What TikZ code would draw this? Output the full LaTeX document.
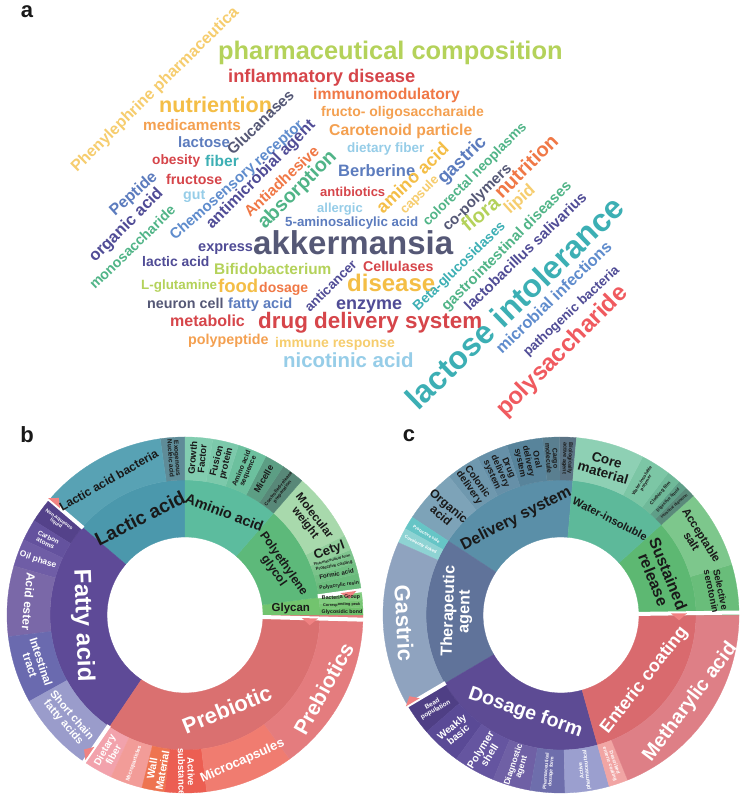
\documentclass[tikz,border=0pt]{standalone}
\usepackage{fontspec}
\setmainfont{Liberation Sans}

% word cloud colours
\definecolor{wcLime}{RGB}{180,210,90}
\definecolor{wcRed}{RGB}{214,69,74}
\definecolor{wcPink}{RGB}{240,90,95}
\definecolor{wcOrange}{RGB}{240,120,70}
\definecolor{wcLtOrange}{RGB}{244,160,80}
\definecolor{wcYellow}{RGB}{244,190,70}
\definecolor{wcPaleYellow}{RGB}{246,205,110}
\definecolor{wcBlue}{RGB}{92,124,190}
\definecolor{wcMidBlue}{RGB}{95,140,205}
\definecolor{wcLtBlue}{RGB}{150,205,232}
\definecolor{wcTeal}{RGB}{60,175,180}
\definecolor{wcSlate}{RGB}{85,88,118}
\definecolor{wcIndigo}{RGB}{80,76,150}
\definecolor{wcGreen}{RGB}{80,180,135}

% sunburst b colours
\definecolor{sbLactic}{RGB}{75,152,172}
\definecolor{sbLAB}{RGB}{88,162,180}
\definecolor{sbExo}{RGB}{95,140,152}
\definecolor{sbAmino}{RGB}{92,188,158}
\definecolor{sbGrowth}{RGB}{130,205,176}
\definecolor{sbFusion}{RGB}{124,201,171}
\definecolor{sbAminoSeq}{RGB}{108,192,158}
\definecolor{sbMicelle}{RGB}{92,158,132}
\definecolor{sbControl}{RGB}{88,136,120}
\definecolor{sbPEG}{RGB}{93,185,122}
\definecolor{sbMolw}{RGB}{168,217,172}
\definecolor{sbCetyl}{RGB}{148,208,158}
\definecolor{sbPharm}{RGB}{128,198,144}
\definecolor{sbProt}{RGB}{122,195,138}
\definecolor{sbFormic}{RGB}{112,190,130}
\definecolor{sbPolyac}{RGB}{106,187,124}
\definecolor{sbGlycan}{RGB}{114,196,110}
\definecolor{sbBact}{RGB}{130,204,128}
\definecolor{sbCorr}{RGB}{120,198,116}
\definecolor{sbGlyco}{RGB}{110,192,106}
\definecolor{sbFatty}{RGB}{94,74,151}
\definecolor{sbNonaq}{RGB}{84,66,138}
\definecolor{sbCarbon}{RGB}{100,82,158}
\definecolor{sbOil}{RGB}{111,93,166}
\definecolor{sbAcidE}{RGB}{122,104,168}
\definecolor{sbIntest}{RGB}{106,106,175}
\definecolor{sbShort}{RGB}{154,156,203}
\definecolor{sbPrebio}{RGB}{218,112,112}
\definecolor{sbDiet}{RGB}{242,162,172}
\definecolor{sbMicrop}{RGB}{242,156,152}
\definecolor{sbWall}{RGB}{238,116,80}
\definecolor{sbActive}{RGB}{236,94,82}
\definecolor{sbMicroc}{RGB}{240,124,112}
\definecolor{sbPrebs}{RGB}{228,124,126}

% sunburst c colours
\definecolor{scDeliv}{RGB}{90,143,168}
\definecolor{scOrgan}{RGB}{125,163,184}
\definecolor{scColon}{RGB}{111,152,174}
\definecolor{scDrugD}{RGB}{102,144,168}
\definecolor{scOral}{RGB}{88,132,155}
\definecolor{scCargo}{RGB}{90,127,144}
\definecolor{scBiol}{RGB}{91,115,132}
\definecolor{scThera}{RGB}{96,115,154}
\definecolor{scProtS}{RGB}{102,197,198}
\definecolor{scCoval}{RGB}{142,211,211}
\definecolor{scGastric}{RGB}{143,163,191}
\definecolor{scDosage}{RGB}{93,75,148}
\definecolor{scBead}{RGB}{79,63,133}
\definecolor{scWeak}{RGB}{90,74,150}
\definecolor{scPolym}{RGB}{101,85,160}
\definecolor{scDiagn}{RGB}{111,96,165}
\definecolor{scPharmD}{RGB}{110,110,172}
\definecolor{scActiveP}{RGB}{155,159,207}
\definecolor{scEnteric}{RGB}{217,106,110}
\definecolor{scDescr}{RGB}{241,165,164}
\definecolor{scMeth}{RGB}{222,127,134}
\definecolor{scSust}{RGB}{93,184,114}
\definecolor{scAccept}{RGB}{125,199,140}
\definecolor{scSelect}{RGB}{105,189,122}
\definecolor{scWater}{RGB}{93,185,154}
\definecolor{scCore}{RGB}{142,208,180}
\definecolor{scWpoly}{RGB}{124,198,165}
\definecolor{scCloth}{RGB}{111,185,153}
\definecolor{scDigest}{RGB}{95,159,136}
\definecolor{scIntDig}{RGB}{90,138,122}
\definecolor{notchpink}{RGB}{240,130,130}

\newcommand{\fsz}[1]{\fontsize{#1}{#1}\selectfont\bfseries}
% annular sector: inner radius, outer radius, start angle, end angle, colour
\newcommand{\ringpart}[5]{\filldraw[#5, line width=0.3pt] (#3:#1) arc[start angle=#3, end angle=#4, radius=#1] -- (#4:#2) arc[start angle=#4, end angle=#3, radius=#2] -- cycle;}
\newcommand{\slit}[3]{\draw[white, line width=4pt] (#1:#2) -- (#1:#3);}
\newcommand{\notch}[2]{\fill[notchpink, shift={(#1:#2)}, rotate=#1] (-8,0) -- (8,0) -- (0,-7) -- cycle;}

\tikzset{
  word/.style={anchor=base west, inner sep=0pt},
  seclbl/.style={inner sep=0pt, align=center, text=black!90},
  seclblw/.style={seclbl, text=white},
  panel/.style={inner sep=0pt, text=black!90, font=\fsz{22}},
}

\begin{document}
\begin{tikzpicture}[x=1pt, y=1pt]
\useasboundingbox (0,0) rectangle (745,802);
\fill[white] (0,0) rectangle (745,802);

% Panel letters
\node[panel] (la) at (27,790) {a};
\node[panel] (lb) at (27,367) {b};
\node[panel] (lc) at (409,366) {c};

% Word cloud, horizontal words
\node[word, text=wcLime, font=\fsz{25.4}] (pharmcomp) at (218,742) {pharmaceutical composition};
\node[word, text=wcRed, font=\fsz{18.3}] (inflam) at (228,719) {inflammatory disease};
\node[word, text=wcOrange, font=\fsz{15.7}] (immuno) at (313,702) {immunomodulatory};
\node[word, text=wcLtOrange, font=\fsz{14}] (fructoolig) at (321,685) {fructo- oligosaccharaide};
\node[word, text=wcLtOrange, font=\fsz{15.7}] (carotenoid) at (329,666) {Carotenoid particle};
\node[word, text=wcLtBlue, font=\fsz{13.5}] (dietfiber) at (347,649) {dietary fiber};
\node[word, text=wcBlue, font=\fsz{16.5}] (berberine) at (338,625) {Berberine};
\node[word, text=wcRed, font=\fsz{13}] (antibiotics) at (320,605) {antibiotics};
\node[word, text=wcYellow, font=\fsz{21.6}] (nutriention) at (159,689) {nutriention};
\node[word, text=wcLtOrange, font=\fsz{15.3}] (medicaments) at (143,671) {medicaments};
\node[word, text=wcBlue, font=\fsz{15}] (lactose) at (178,654) {lactose};
\node[word, text=wcRed, font=\fsz{13.7}] (obesity) at (152,637) {obesity};
\node[word, text=wcTeal, font=\fsz{15.5}] (fiber) at (205,635) {fiber};
\node[word, text=wcRed, font=\fsz{14.2}] (fructose) at (166,617) {fructose};
\node[word, text=wcLtBlue, font=\fsz{14.2}] (gut) at (183,602) {gut};
\node[word, text=wcLtBlue, font=\fsz{13}] (allergic) at (317,589) {allergic};
\node[word, text=wcBlue, font=\fsz{13.3}] (aminosal) at (285,575) {5-aminosalicylic acid};
\node[word, text=wcSlate, font=\fsz{33}] (akkermansia) at (253,547) {akkermansia};
\node[word, text=wcIndigo, font=\fsz{14.5}] (express) at (198,550) {express};
\node[word, text=wcIndigo, font=\fsz{13.9}] (lacticacid) at (142,535) {lactic acid};
\node[word, text=wcLime, font=\fsz{15.4}] (bifido) at (214,527) {Bifidobacterium};
\node[word, text=wcLime, font=\fsz{13.4}] (glutamine) at (141,512) {L-glutamine};
\node[word, text=wcYellow, font=\fsz{18.5}] (food) at (218,509) {food};
\node[word, text=wcOrange, font=\fsz{14}] (dosage) at (259,509) {dosage};
\node[word, text=wcSlate, font=\fsz{14.3}] (neuron) at (147,493) {neuron cell};
\node[word, text=wcBlue, font=\fsz{14.6}] (fattyacid) at (228,493) {fatty acid};
\node[word, text=wcRed, font=\fsz{16}] (metabolic) at (170,475) {metabolic};
\node[word, text=wcRed, font=\fsz{22.4}] (drugdeliv) at (258,473) {drug delivery system};
\node[word, text=wcLtOrange, font=\fsz{14.3}] (polypeptide) at (188,457) {polypeptide};
\node[word, text=wcPaleYellow, font=\fsz{14}] (immuneresp) at (275,454) {immune response};
\node[word, text=wcLtBlue, font=\fsz{20.4}] (nicotinic) at (283,434) {nicotinic acid};
\node[word, text=wcIndigo, font=\fsz{18}] (enzyme) at (336,492) {enzyme};
\node[word, text=wcRed, font=\fsz{14.2}] (cellulases) at (363,530) {Cellulases};
\node[word, text=wcYellow, font=\fsz{24}] (disease) at (347,510) {disease};

% Word cloud, slanted words
\node[word, rotate=44.5, text=wcPaleYellow, font=\fsz{16}] (phenyl) at (77,629) {Phenylephrine pharmaceutica};
\node[word, rotate=44, text=wcSlate, font=\fsz{15.3}] (glucanases) at (233,646) {Glucanases};
\node[word, rotate=41.5, text=wcMidBlue, font=\fsz{15}] (chemosens) at (175,561) {Chemosensory receptor};
\node[word, rotate=45, text=wcIndigo, font=\fsz{16}] (antimicrob) at (212,572) {antimicrobial agent};
\node[word, rotate=43, text=wcOrange, font=\fsz{15.4}] (antiadh) at (250,584) {Antiadhesive};
\node[word, rotate=45, text=wcGreen, font=\fsz{19.8}] (absorption) at (265,572) {absorption};
\node[word, rotate=45, text=wcIndigo, font=\fsz{13.4}] (anticancer) at (310,489) {anticancer};
\node[word, rotate=44, text=wcYellow, font=\fsz{17.8}] (aminoacid) at (383,587) {amino acid};
\node[word, rotate=45, text=wcPaleYellow, font=\fsz{13}] (capsule) at (405,587) {capsule};
\node[word, rotate=44, text=wcBlue, font=\fsz{18.3}] (gastric) at (444,617) {gastric};
\node[word, rotate=45, text=wcGreen, font=\fsz{13.7}] (colorectal) at (428,575) {colorectal neoplasms};
\node[word, rotate=44, text=wcSlate, font=\fsz{15}] (copolymers) at (448,570) {co-polymers};
\node[word, rotate=45, text=wcOrange, font=\fsz{20}] (nutrition) at (502,602) {nutrition};
\node[word, rotate=40, text=wcLime, font=\fsz{20}] (flora) at (468,569) {flora};
\node[word, rotate=42, text=wcPaleYellow, font=\fsz{17}] (lipid) at (510,587) {lipid};
\node[word, rotate=44, text=wcTeal, font=\fsz{13.8}] (betagluc) at (418,490) {Beta-glucosidases};
\node[word, rotate=45, text=wcGreen, font=\fsz{14.8}] (gastroint) at (447,490) {gastrointestinal diseases};
\node[word, rotate=44, text=wcIndigo, font=\fsz{14.9}] (lactobac) at (470,490) {lactobacillus salivarius};
\node[word, rotate=44, text=wcTeal, font=\fsz{32}] (lactint) at (418,390) {lactose intolerance};
\node[word, rotate=44, text=wcMidBlue, font=\fsz{16.3}] (microbinf) at (502,447) {microbial infections};
\node[word, rotate=43, text=wcIndigo, font=\fsz{13.3}] (pathogen) at (528,445) {pathogenic bacteria};
\node[word, rotate=45, text=wcPink, font=\fsz{24}] (polysacch) at (505,384) {polysaccharide};
\node[word, rotate=42, text=wcBlue, font=\fsz{16}] (peptide) at (115,585) {Peptide};
\node[word, rotate=45, text=wcIndigo, font=\fsz{16.5}] (organic) at (95,539) {organic acid};
\node[word, rotate=44, text=wcGreen, font=\fsz{14.2}] (monosacch) at (95,512) {monosaccharide};

% Sunburst b
\begin{scope}[shift={(185,187)}]
% inner ring
\ringpart{78}{135}{90}{139.5}{sbLactic}
\ringpart{78}{135}{139.5}{236}{sbFatty}
\ringpart{78}{135}{236}{360}{sbPrebio}
\ringpart{78}{135}{0}{7.5}{sbGlycan}
\ringpart{78}{135}{7.5}{49}{sbPEG}
\ringpart{78}{135}{49}{90}{sbAmino}
% outer ring
\ringpart{135}{178}{90}{98}{sbExo}
\ringpart{135}{178}{98}{139.5}{sbLAB}
\ringpart{135}{178}{139.5}{148}{sbNonaq}
\ringpart{135}{178}{148}{155}{sbCarbon}
\ringpart{135}{178}{155}{164}{sbOil}
\ringpart{135}{178}{164}{187}{sbAcidE}
\ringpart{135}{178}{187}{209}{sbIntest}
\ringpart{135}{178}{209}{236}{sbShort}
\ringpart{135}{178}{236}{245.5}{sbDiet}
\ringpart{135}{178}{245.5}{256}{sbMicrop}
\ringpart{135}{178}{256}{263.5}{sbWall}
\ringpart{135}{178}{263.5}{277}{sbActive}
\ringpart{135}{178}{277}{306}{sbMicroc}
\ringpart{135}{178}{306}{360}{sbPrebs}
\ringpart{135}{178}{0}{2.5}{sbGlyco}
\ringpart{135}{178}{2.5}{4.8}{sbCorr}
\ringpart{135}{178}{4.8}{8}{sbBact}
\ringpart{135}{178}{8}{13.5}{sbPolyac}
\ringpart{135}{178}{13.5}{17}{sbFormic}
\ringpart{135}{178}{17}{19.5}{sbProt}
\ringpart{135}{178}{19.5}{21.5}{sbPharm}
\ringpart{135}{178}{21.5}{26.5}{sbCetyl}
\ringpart{135}{178}{26.5}{49}{sbMolw}
\ringpart{135}{178}{49}{56.5}{sbControl}
\ringpart{135}{178}{56.5}{63}{sbMicelle}
\ringpart{135}{178}{63}{72.5}{sbAminoSeq}
\ringpart{135}{178}{72.5}{81}{sbFusion}
\ringpart{135}{178}{81}{90}{sbGrowth}
% breaks between groups
\slit{139.5}{134}{181}
\slit{-1.5}{76}{181}
\slit{8}{134}{181}
\slit{235.5}{134}{181}
\notch{139.5}{172}
\notch{-1.5}{125}
\notch{8}{165}
\notch{235.5}{168}
% inner labels
\node[seclbl, rotate=27, font=\fsz{19}] (blactic) at (115:107) {Lactic acid};
\node[seclbl, rotate=-21, font=\fsz{14.5}] (baminio) at (69:110) {Aminio acid};
\node[seclbl, rotate=-55, font=\fsz{12}] (bpeg) at (27:105) {Polyethylene\\glycol};
\node[seclbl, font=\fsz{11.5}] (bglycan) at (3.5:106) {Glycan};
\node[seclblw, rotate=-88, font=\fsz{24}] (bfatty) at (186:103) {Fatty acid};
\node[seclblw, rotate=22, font=\fsz{22}] (bprebio) at (294:103) {Prebiotic};
% outer labels
\node[seclbl, rotate=29.5, font=\fsz{12}] (blab) at (119.5:155) {Lactic acid bacteria};
\node[seclbl, rotate=-86, font=\fsz{6.5}] (bexo) at (94:157) {Exogenous\\Nucleic acid};
\node[seclbl, rotate=85, font=\fsz{9.5}] (bgrowth) at (85.5:157) {Growth\\Factor};
\node[seclbl, rotate=76, font=\fsz{9.5}] (bfusion) at (76.5:157) {Fusion\\protein};
\node[seclbl, rotate=67, font=\fsz{7}] (baaseq) at (67.5:157) {Amino acid\\sequence};
\node[seclbl, rotate=60, font=\fsz{9}] (bmicelle) at (60:157) {Micelle};
\node[seclbl, rotate=52, font=\fsz{4.8}] (bctrl) at (52.5:157) {Controlled-release\\preparation};
\node[seclbl, rotate=-52.5, font=\fsz{11.5}] (bmolw) at (37.5:157) {Molecular\\weight};
\node[seclbl, rotate=20, font=\fsz{13}] (bcetyl) at (24:158) {Cetyl};
\node[seclbl, rotate=14, font=\fsz{3.8}] (bpharm) at (20.5:157) {Pharmaceutical form};
\node[seclbl, rotate=12, font=\fsz{4.3}] (bprot) at (18.2:157) {Protective coating};
\node[seclbl, rotate=10, font=\fsz{6.2}] (bformic) at (15.2:157) {Formic acid};
\node[seclbl, rotate=8, font=\fsz{5}] (bpolyac) at (10.8:157) {Polyacrylic resin};
\node[seclbl, rotate=3, font=\fsz{5.3}] (bbact) at (6.4:157) {Bacteria Group};
\node[seclbl, rotate=2, font=\fsz{3.8}] (bcorr) at (3.7:157) {Corresponding peak};
\node[seclbl, font=\fsz{5.2}] (bglyco) at (1.2:157) {Glycosidic bond};
\node[seclblw, rotate=-35, font=\fsz{5}] (bnonaq) at (143.8:158) {Non-aqueous\\liquid};
\node[seclblw, rotate=-27, font=\fsz{6.5}] (bcarbon) at (151.5:157) {Carbon\\atoms};
\node[seclblw, rotate=-19, font=\fsz{8.5}] (boil) at (159.5:157) {Oil phase};
\node[seclblw, rotate=-95, font=\fsz{12}] (bacidester) at (175:157) {Acid ester};
\node[seclblw, rotate=-72, font=\fsz{11.5}] (bintest) at (198:157) {Intestinal\\tract};
\node[seclblw, rotate=-49, font=\fsz{11}] (bshort) at (221.5:157) {Short chain\\fatty acids};
\node[seclblw, rotate=61, font=\fsz{10}] (bdiet) at (241:157) {Dietary\\fiber};
\node[seclblw, rotate=71, font=\fsz{5.5}] (bmicrop) at (251:157) {Microparticles};
\node[seclblw, rotate=80, font=\fsz{10.5}] (bwall) at (259.8:157) {Wall\\Material};
\node[seclblw, rotate=-89, font=\fsz{9.5}] (bactive) at (270.5:157) {Active\\substance};
\node[seclblw, rotate=24, font=\fsz{13}] (bmicroc) at (291.5:157) {Microcapsules};
\node[seclblw, rotate=61, font=\fsz{21}] (bprebs) at (332:157) {Prebiotics};
\end{scope}

% Sunburst c
\begin{scope}[shift={(561,187)}]
% inner ring
\ringpart{78}{135}{85}{146.7}{scDeliv}
\ringpart{78}{135}{146.7}{210.5}{scThera}
\ringpart{78}{135}{210.5}{285.7}{scDosage}
\ringpart{78}{135}{285.7}{360}{scEnteric}
\ringpart{78}{135}{0}{42}{scSust}
\ringpart{78}{135}{42}{85}{scWater}
% outer ring
\ringpart{135}{178}{85}{90.5}{scBiol}
\ringpart{135}{178}{90.5}{96}{scCargo}
\ringpart{135}{178}{96}{107.7}{scOral}
\ringpart{135}{178}{107.7}{118}{scDrugD}
\ringpart{135}{178}{118}{129}{scColon}
\ringpart{135}{178}{129}{146.7}{scOrgan}
\ringpart{135}{178}{146.7}{151}{scProtS}
\ringpart{135}{178}{151}{156}{scCoval}
\ringpart{135}{178}{156}{210.5}{scGastric}
\ringpart{135}{178}{210.5}{221}{scBead}
\ringpart{135}{178}{221}{234}{scWeak}
\ringpart{135}{178}{234}{247.6}{scPolym}
\ringpart{135}{178}{247.6}{260}{scDiagn}
\ringpart{135}{178}{260}{271.3}{scPharmD}
\ringpart{135}{178}{271.3}{285.7}{scActiveP}
\ringpart{135}{178}{285.7}{292}{scDescr}
\ringpart{135}{178}{292}{360}{scMeth}
\ringpart{135}{178}{0}{16.5}{scSelect}
\ringpart{135}{178}{16.5}{42}{scAccept}
\ringpart{135}{178}{42}{45.5}{scIntDig}
\ringpart{135}{178}{45.5}{48.5}{scDigest}
\ringpart{135}{178}{48.5}{53}{scCloth}
\ringpart{135}{178}{53}{62.7}{scWpoly}
\ringpart{135}{178}{62.7}{85}{scCore}
% breaks between groups
\slit{0.8}{76}{181}
\slit{210.5}{134}{181}
\notch{0.8}{118}
\notch{210.5}{172}
% inner labels
\node[seclbl, rotate=27, font=\fsz{16}] (cdeliv) at (115:106) {Delivery system};
\node[seclbl, rotate=-27, font=\fsz{11}] (cwater) at (63:108) {Water-insoluble};
\node[seclbl, rotate=-68, font=\fsz{16}] (csust) at (21:107) {Sustained\\release};
\node[seclblw, rotate=52, font=\fsz{18}] (centeric) at (322:106) {Enteric coating};
\node[seclblw, rotate=-19, font=\fsz{19.5}] (cdosage) at (250:104) {Dosage form};
\node[seclblw, rotate=88, font=\fsz{16}] (cthera) at (178:104) {Therapeutic\\agent};
% outer labels
\node[seclblw, rotate=-87, font=\fsz{22}] (cgastric) at (183:157) {Gastric};
\node[seclbl, rotate=-40, font=\fsz{12}] (corgan) at (138:156) {Organic\\acid};
\node[seclbl, rotate=-55, font=\fsz{10}] (ccolon) at (124:157) {Colonic\\delivery};
\node[seclbl, rotate=-66, font=\fsz{9}] (cdrugd) at (113:156) {Drug\\delivery\\system};
\node[seclbl, rotate=-78, font=\fsz{8.5}] (coral) at (102:157) {Oral\\delivery\\system};
\node[seclbl, rotate=-86.5, font=\fsz{7}] (ccargo) at (93.3:157) {Cargo\\molecule};
\node[seclbl, rotate=-92, font=\fsz{5.5}] (cbiol) at (87.7:157) {Biologically\\active agent};
\node[seclbl, rotate=-16.5, font=\fsz{13.5}] (ccore) at (73.5:155) {Core\\material};
\node[seclbl, rotate=58, font=\fsz{4.5}] (cwpoly) at (58:157) {Water-insoluble\\polymer};
\node[seclbl, rotate=50, font=\fsz{4.8}] (ccloth) at (50.7:157) {Clothing film};
\node[seclbl, rotate=46, font=\fsz{4.2}] (cdigest) at (47:157) {Digestive liquid};
\node[seclbl, rotate=42, font=\fsz{3.8}] (cintdig) at (43.8:157) {Intestinal digestion};
\node[seclbl, rotate=-58, font=\fsz{11.5}] (caccept) at (29.5:156) {Acceptable\\salt};
\node[seclbl, rotate=-78, font=\fsz{9.5}] (cselect) at (9:157) {Selective\\serotonin};
\node[seclblw, rotate=53, font=\fsz{19.8}] (cmeth) at (326:156) {Metharylic acid};
\node[seclblw, rotate=-71, font=\fsz{5}] (cdescr) at (289:157) {Described\\enteric coating};
\node[seclblw, rotate=96, font=\fsz{5.5}] (cactivep) at (278.5:157) {Active\\pharmaceutical};
\node[seclblw, rotate=85.5, font=\fsz{5}] (cpharmd) at (265.5:157) {Pharmaceutical\\dosage form};
\node[seclblw, rotate=72, font=\fsz{8.5}] (cdiagn) at (254:157) {Diagnostic\\agent};
\node[seclblw, rotate=58, font=\fsz{10.5}] (cpolym) at (241:157) {Polymer\\shell};
\node[seclblw, rotate=40, font=\fsz{10}] (cweak) at (227.5:157) {Weakly\\basic};
\node[seclblw, rotate=30, font=\fsz{6.5}] (cbead) at (216:157) {Bead\\population};
\node[seclblw, rotate=-31, font=\fsz{4.3}] (cprots) at (149:157) {Protective side};
\node[seclblw, rotate=-27, font=\fsz{4.3}] (ccoval) at (153.5:157) {Covalently linked};
\end{scope}

\end{tikzpicture}
\end{document}
